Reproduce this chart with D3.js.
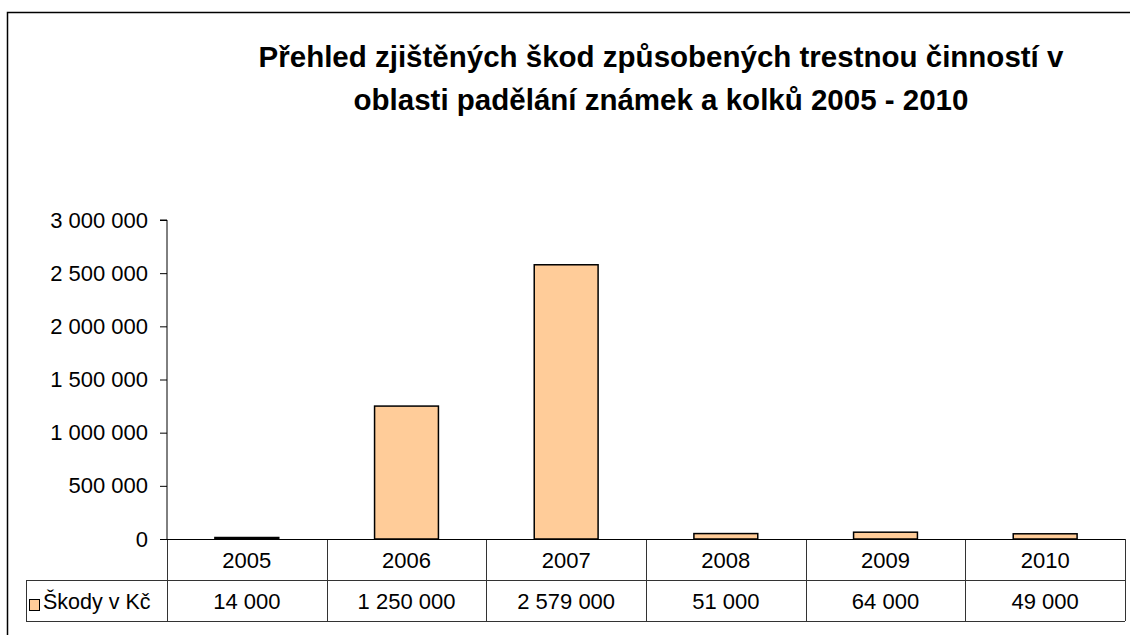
<!DOCTYPE html>
<html>
<head>
<meta charset="utf-8">
<script src="https://cdn.jsdelivr.net/npm/d3@7"></script>
<style>
  html, body { margin: 0; padding: 0; background: #fff; }
  svg { display: block; }
  text { font-family: "Liberation Sans", Arial, sans-serif; fill: #000; }
</style>
</head>
<body>
<svg id="chart" width="1130" height="635"></svg>
<script>
const titleLines = ["Přehled zjištěných škod způsobených trestnou činností v", "oblasti padělání známek a kolků 2005 - 2010"];
const categories = ["2005", "2006", "2007", "2008", "2009", "2010"];
const seriesName = "Škody v Kč";
const values = [14000, 1250000, 2579000, 51000, 64000, 49000];
const yTicks = [0, 500000, 1000000, 1500000, 2000000, 2500000, 3000000];

const locale = d3.formatLocale({ decimal: ",", thousands: " ", grouping: [3], currency: ["", ""] });
const fmt = locale.format(",d");

const svg = d3.select("#chart");
const plotL = 167, plotR = 1125, plotT = 220, plotB = 539;
const tableMid = 580, tableB = 621, legendL = 26;
const fs = 22;

// outer border
svg.append("rect").attr("x", 7.5).attr("y", 12.5).attr("width", 1140).attr("height", 640)
  .attr("fill", "none").attr("stroke", "#000").attr("stroke-width", 1.5);

// title
svg.append("g").selectAll("text").data(titleLines).join("text")
  .attr("x", 661).attr("y", (d, i) => 67 + i * 43)
  .attr("text-anchor", "middle").attr("font-weight", "bold").attr("font-size", 29.5)
  .text(d => d);

const x = d3.scaleBand().domain(categories).range([plotL, plotR]).paddingInner(0.6).paddingOuter(0.3);
const xc = d3.scaleBand().domain(categories).range([plotL, plotR]);
const y = d3.scaleLinear().domain([0, 3000000]).range([plotB, plotT]);

// y axis
const yAxis = d3.axisLeft(y).tickValues(yTicks).tickFormat(fmt).tickSize(7).tickPadding(12);
const ga = svg.append("g").attr("transform", `translate(${plotL},0)`).call(yAxis);
ga.select(".domain").attr("stroke", "#000").attr("d", `M-7,${plotT}H0V${plotB}`);
ga.selectAll(".tick line").attr("stroke", "#000");
ga.selectAll(".tick text").attr("font-size", fs).attr("font-family", "Liberation Sans, Arial, sans-serif").attr("fill", "#000");

// bars
svg.append("g").selectAll("rect").data(values).join("rect")
  .attr("x", (d, i) => x(categories[i]))
  .attr("width", x.bandwidth())
  .attr("y", d => y(d))
  .attr("height", d => y(0) - y(d))
  .attr("fill", "#FFCC99").attr("stroke", "#000").attr("stroke-width", 1.5);

// table lines
const tl = svg.append("g").attr("stroke", "#333").attr("stroke-width", 1);
tl.append("line").attr("x1", legendL).attr("x2", plotR).attr("y1", tableMid + 0.5).attr("y2", tableMid + 0.5);
tl.append("line").attr("x1", legendL).attr("x2", plotR).attr("y1", tableB + 0.5).attr("y2", tableB + 0.5);
tl.append("line").attr("x1", legendL + 0.5).attr("x2", legendL + 0.5).attr("y1", tableMid).attr("y2", tableB);
const bounds = categories.map(c => xc(c)).concat([plotR]);
tl.selectAll("line.v").data(bounds).join("line").attr("class", "v")
  .attr("x1", d => Math.round(d) + 0.5).attr("x2", d => Math.round(d) + 0.5)
  .attr("y1", plotB).attr("y2", tableB);
svg.append("line").attr("x1", plotL - 7).attr("x2", plotR).attr("y1", plotB + 0.5).attr("y2", plotB + 0.5)
  .attr("stroke", "#000").attr("stroke-width", 1);

// header row
svg.append("g").selectAll("text").data(categories).join("text")
  .attr("x", d => xc(d) + xc.bandwidth() / 2).attr("y", 567.5)
  .attr("text-anchor", "middle").attr("font-size", fs).text(d => d);
// values row
svg.append("g").selectAll("text").data(values).join("text")
  .attr("x", (d, i) => xc(categories[i]) + xc.bandwidth() / 2).attr("y", 608.5)
  .attr("text-anchor", "middle").attr("font-size", fs).text(d => fmt(d));

// legend key
svg.append("rect").attr("x", 29.5).attr("y", 599.5).attr("width", 10).attr("height", 11)
  .attr("fill", "#FFCC99").attr("stroke", "#000").attr("stroke-width", 1);
svg.append("text").attr("x", 43).attr("y", 608.5).attr("font-size", fs - 0.5).text(seriesName);
</script>
</body>
</html>
